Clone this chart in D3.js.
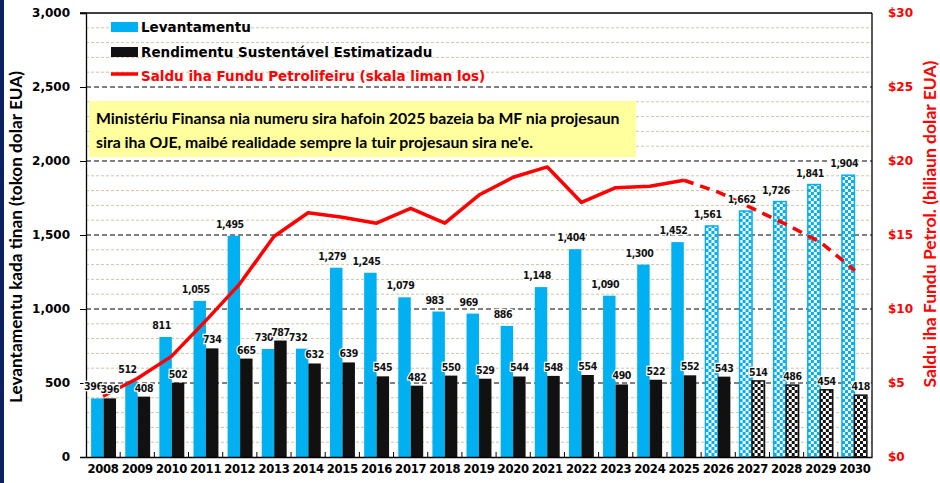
<!DOCTYPE html>
<html>
<head>
<meta charset="utf-8">
<script src="https://cdn.jsdelivr.net/npm/d3@7"></script>
<style>
  body { margin: 0; background: #fff; }
  svg { display: block; }
</style>
</head>
<body>
<svg width="940" height="483"></svg>
<script>

// --- data ---
var years = ["2008","2009","2010","2011","2012","2013","2014","2015","2016","2017","2018","2019",
             "2020","2021","2022","2023","2024","2025","2026","2027","2028","2029","2030"];
var levantamentu = [396,512,811,1055,1495,730,732,1279,1245,1079,983,969,886,1148,1404,1090,1300,1452,1561,1662,1726,1841,1904];
var rendimentu   = [396,408,502,734,665,787,632,639,545,482,550,529,544,548,554,490,522,552,543,514,486,454,418];
var saldu        = [4.1,5.3,6.8,9.2,11.7,14.9,16.5,16.2,15.8,16.8,15.8,17.7,18.9,19.6,17.2,18.2,18.3,18.7,17.9,16.8,15.7,14.5,12.6];
var firstProjLev = "2026";   // blue bars checkered from here
var firstProjRen = "2027";   // black bars checkered from here
var lastActual = "2025";     // line dashed after this year
var leftTicks  = [0,500,1000,1500,2000,2500,3000];
var rightTicks = [0,5,10,15,20,25,30];
var legendLabels = ["Levantamentu","Rendimentu Sustentável Estimatizadu","Saldu iha Fundu Petrolifeiru (skala liman los)"];
var noteLines = ["Ministériu Finansa nia numeru sira hafoin 2025 bazeia ba MF nia projesaun",
                 "sira iha OJE, maibé realidade sempre la tuir projesaun sira ne'e."];

var blue = "#00b0f0", black = "#111111", red = "#ff0000";

var svg = d3.select("svg");
var margin = {left: 86, right: 68, top: 13, bottom: 26};
var width = 940, height = 483;
var x0 = margin.left, x1 = width - margin.right, yTop = margin.top, yBot = height - margin.bottom;

var x = d3.scaleBand().domain(years).range([x0, x1]).paddingInner(0.27).paddingOuter(0.15);
var xCat = d3.scaleBand().domain(years).range([x0, x1]);
var xs = d3.scaleBand().domain(["lev","ren"]).range([0, x.bandwidth()]);
var y = d3.scaleLinear().domain([0, 3000]).range([yBot, yTop]);
var y2 = d3.scaleLinear().domain([0, 30]).range([yBot, yTop]);

// left navy strip
svg.append("rect").attr("x", 0).attr("y", 0).attr("width", 4).attr("height", height).attr("fill", "#0b2161");

// patterns
var defs = svg.append("defs");
function checker(id, c) {
  var p = defs.append("pattern").attr("id", id).attr("patternUnits", "userSpaceOnUse")
    .attr("width", 6).attr("height", 6);
  p.append("rect").attr("width", 6).attr("height", 6).attr("fill", c);
  p.append("rect").attr("width", 3).attr("height", 3).attr("fill", "#fff");
  p.append("rect").attr("x", 3).attr("y", 3).attr("width", 3).attr("height", 3).attr("fill", "#fff");
}
checker("chkBlue", blue);
checker("chkBlack", black);

// minor gridlines
svg.append("g").selectAll("line")
  .data(d3.range(100, 3000, 100).filter(function(v) { return v % 500 !== 0; }))
  .enter().append("line")
  .attr("x1", x0).attr("x2", x1)
  .attr("y1", function(d) { return y(d); }).attr("y2", function(d) { return y(d); })
  .attr("stroke", "#cfc6a8").attr("stroke-width", 1).attr("stroke-dasharray", "3,2");

// major gridlines
svg.append("g").selectAll("line")
  .data([500,1000,1500,2000,2500])
  .enter().append("line")
  .attr("x1", x0).attr("x2", x1)
  .attr("y1", function(d) { return y(d); }).attr("y2", function(d) { return y(d); })
  .attr("stroke", "#000").attr("stroke-width", 1).attr("stroke-dasharray", "5,3");

// bars
var groups = svg.append("g").selectAll("g").data(years).enter().append("g")
  .attr("transform", function(d) { return "translate(" + x(d) + ",0)"; });

groups.append("rect")
  .attr("x", xs("lev")).attr("width", xs.bandwidth())
  .attr("y", function(d, i) { return y(levantamentu[i]); })
  .attr("height", function(d, i) { return yBot - y(levantamentu[i]); })
  .attr("fill", function(d) { return d >= firstProjLev ? "url(#chkBlue)" : blue; })
  .attr("stroke", function(d) { return d >= firstProjLev ? blue : "none"; })
  .attr("stroke-width", 1.5);

groups.append("rect")
  .attr("x", xs("ren")).attr("width", xs.bandwidth())
  .attr("y", function(d, i) { return y(rendimentu[i]); })
  .attr("height", function(d, i) { return yBot - y(rendimentu[i]); })
  .attr("fill", function(d) { return d >= firstProjRen ? "url(#chkBlack)" : black; })
  .attr("stroke", function(d) { return d >= firstProjRen ? black : "none"; })
  .attr("stroke-width", 1.5);

// axes
var leftAxis = d3.axisLeft(y).tickValues(leftTicks).tickSize(6).tickFormat(d3.format(","));
var gL = svg.append("g").attr("transform", "translate(" + x0 + ",0)").call(leftAxis);
gL.select(".domain").attr("stroke", "#000").attr("stroke-width", 1.3);
gL.selectAll("text").attr("x", -16).attr("font-family", "DejaVu Sans").attr("font-weight", "bold")
  .attr("font-size", 12).attr("fill", "#000");

var bottomAxis = d3.axisBottom(xCat).tickSize(0).tickPadding(8);
var gB = svg.append("g").attr("transform", "translate(0," + yBot + ")").call(bottomAxis);
gB.select(".domain").attr("stroke", "#000").attr("stroke-width", 1.3);
gB.selectAll("text").attr("font-family", "DejaVu Sans").attr("font-weight", "bold")
  .attr("font-size", 11.6).attr("letter-spacing", -0.3).attr("fill", "#000");
// category boundary ticks (inside)
svg.append("g").selectAll("line").data(years.slice(1)).enter().append("line")
  .attr("x1", function(d) { return xCat(d); }).attr("x2", function(d) { return xCat(d); })
  .attr("y1", yBot).attr("y2", yBot - 5).attr("stroke", "#000");

// frame top + right
svg.append("line").attr("x1", x0 - 6).attr("x2", x1).attr("y1", yTop).attr("y2", yTop).attr("stroke", "#000").attr("stroke-width", 1.3);
svg.append("line").attr("x1", x1).attr("x2", x1).attr("y1", yTop).attr("y2", yBot).attr("stroke", "#000").attr("stroke-width", 1.3);

var rightAxis = d3.axisRight(y2).tickValues(rightTicks).tickSize(0).tickPadding(16)
  .tickFormat(function(d) { return "$" + d; });
var gR = svg.append("g").attr("transform", "translate(" + x1 + ",0)").call(rightAxis);
gR.select(".domain").remove();
gR.selectAll("text").attr("font-family", "DejaVu Sans").attr("font-weight", "bold")
  .attr("font-size", 12).attr("fill", red);

// line (solid to lastActual, dashed after)
var pts = years.map(function(d, i) { return {year: d, v: saldu[i]}; });
var line = d3.line().x(function(d) { return xCat(d.year) + xCat.bandwidth() / 2; }).y(function(d) { return y2(d.v); });
var idx = years.indexOf(lastActual);
svg.append("path").datum(pts.slice(0, idx + 1)).attr("d", line)
  .attr("fill", "none").attr("stroke", red).attr("stroke-width", 3.5).attr("stroke-linejoin", "round");
svg.append("path").datum(pts.slice(idx)).attr("d", line)
  .attr("fill", "none").attr("stroke", red).attr("stroke-width", 3.5).attr("stroke-dasharray", "10,7");

// value labels
var fmt = d3.format(",");
function labels(vals, key, dx, dy) {
  svg.append("g").selectAll("text").data(years).enter().append("text")
    .attr("x", function(d) { return x(d) + xs(key) + xs.bandwidth() / 2 + dx; })
    .attr("y", function(d, i) { return y(vals[i]) - dy; })
    .attr("text-anchor", "middle")
    .attr("font-family", "DejaVu Sans Condensed, sans-serif")
    .attr("font-weight", "bold").attr("font-size", 10.5).attr("letter-spacing", -0.4).attr("fill", "#111")
    .attr("stroke", "#fff").attr("stroke-width", 2.5).attr("paint-order", "stroke")
    .text(function(d, i) { return fmt(vals[i]); });
}
labels(levantamentu, "lev", -4, 8);
labels(rendimentu, "ren", 0, 5);

// legend
var lg = svg.append("g").attr("font-family", "DejaVu Sans").attr("font-weight", "bold").attr("font-size", 13.5);
lg.append("rect").attr("x", 111).attr("y", 22).attr("width", 27).attr("height", 10).attr("fill", blue);
lg.append("rect").attr("x", 111).attr("y", 47).attr("width", 27).attr("height", 10).attr("fill", black);
lg.append("line").attr("x1", 111).attr("x2", 138).attr("y1", 74).attr("y2", 74).attr("stroke", red).attr("stroke-width", 3.5);
lg.selectAll("text").data(legendLabels).enter().append("text")
  .attr("x", 141).attr("y", function(d, i) { return 32 + i * 24.5; })
  .attr("fill", function(d, i) { return i === 2 ? red : "#000"; })
  .text(function(d) { return d; });

// note box
svg.append("rect").attr("x", 89).attr("y", 101).attr("width", 547).attr("height", 56).attr("fill", "#ffff9d");
svg.append("g").selectAll("text").data(noteLines).enter().append("text")
  .attr("x", 96).attr("y", function(d, i) { return 124 + i * 24; })
  .attr("font-family", "Lato, sans-serif").attr("font-weight", "bold").attr("font-size", 15.8)
  .attr("fill", "#000").text(function(d) { return d; });

// axis titles
svg.append("text").attr("transform", "translate(22,237) rotate(-90)").attr("text-anchor", "middle")
  .attr("font-family", "Lato, sans-serif").attr("font-weight", "bold").attr("font-size", 17.2)
  .text("Levantamentu kada tinan (tokon dolar EUA)");
svg.append("text").attr("transform", "translate(936,224) rotate(-90)").attr("text-anchor", "middle")
  .attr("font-family", "Lato, sans-serif").attr("font-weight", "bold").attr("font-size", 17.5)
  .attr("fill", red).text("Saldu iha Fundu Petrol. (biliaun dolar EUA)");
</script>
</body>
</html>
